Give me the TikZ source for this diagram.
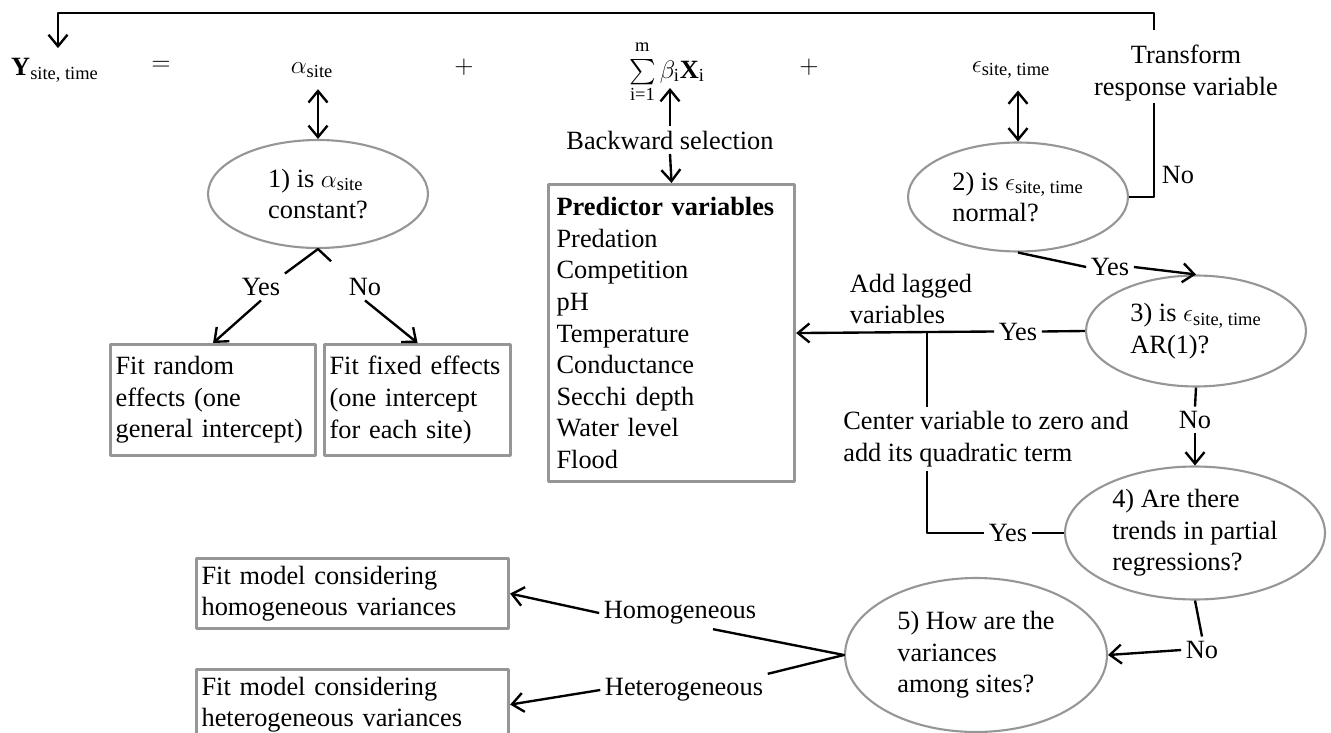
\documentclass[tikz,border=0pt]{standalone}
\usepackage{amsmath}
\usepackage{fontspec}
\setmainfont{Liberation Serif}
\usetikzlibrary{shapes.geometric,arrows.meta,calc}
\definecolor{framegray}{RGB}{150,150,150}
\tikzset{
  quest/.style={ellipse, draw=framegray, line width=1.2pt, align=left, inner sep=0pt},
  fitbox/.style={draw=framegray, line width=1.8pt, align=left, anchor=north west, inner xsep=0.1cm, inner ysep=0.05cm},
  lbl/.style={inner sep=2pt},
}
\begin{document}
\begin{tikzpicture}[x=0.02cm, y=-0.02cm, >={Straight Barb[length=2.3mm,width=3.8mm]}, font=\fontsize{15pt}{18pt}\selectfont, line width=1.35pt, line join=round]
\useasboundingbox (0,0) rectangle (1331,733);
% model equation
\node[lbl] (resp) at (55,70) {\textbf{Y}\textsubscript{site, time}};
\node[lbl] (eq) at (161,66) {$=$};
\node[lbl] (alpha) at (312,70) {$\alpha$\textsubscript{site}};
\node[lbl] (plusa) at (464,67) {$+$};
\node[lbl] (sum) at (667,72) {$\textstyle\sum\limits_{\text{i=1}}^{\text{m}\rule[-2.5pt]{0pt}{2.5pt}}\beta_{\text{i}}\text{\textbf{X}}_{\text{i}}$};
\node[lbl] (plusb) at (809,67) {$+$};
\node[lbl] (eps) at (1011,70) {$\epsilon$\textsubscript{site, time}};
\node[lbl, align=center] (transf) at (1186,73) {Transform\\response variable};
\coordinate (trtop) at (1154,30);
\coordinate (trfoot) at (1154,103);
\coordinate (loopend) at (58,13);
\coordinate (sumfoot) at (670,88);
\coordinate (lagjoin) at (927,331.5);
% questions
\node[quest, minimum width=4.4cm, minimum height=2.16cm] (q1) at (318,194) {1) is $\alpha$\textsubscript{site}\\constant?};
\node[quest, minimum width=4.4cm, minimum height=2.18cm] (q2) at (1018,197) {2) is $\epsilon$\textsubscript{site, time}\\normal?};
\node[quest, minimum width=4.4cm, minimum height=2.22cm] (q3) at (1196,331) {3) is $\epsilon$\textsubscript{site, time}\\AR(1)?};
\node[quest, minimum width=5.2cm, minimum height=2.66cm] (q4) at (1195,533) {4) Are there\\trends in partial\\regressions?};
\node[quest, minimum width=5.24cm, minimum height=3.08cm] (q5) at (976,655) {5) How are the\\variances\\among sites?};
% boxes
\node[fitbox, text width=3.9cm, minimum height=2.22cm] (rand) at (109,343) {Fit random\\effects (one\\general intercept)};
\node[fitbox, text width=3.52cm, minimum height=2.22cm] (fixd) at (323,343) {Fit fixed effects\\(one intercept\\for each site)};
\node[fitbox, text width=4.6cm, minimum height=5.94cm, inner xsep=0.16cm] (pred) at (547,183) {\textbf{Predictor variables}\\Predation\\Competition\\pH\\Temperature\\Conductance\\Secchi depth\\Water level\\Flood};
\node[fitbox, text width=6.04cm, minimum height=1.4cm] (homobox) at (195,557) {Fit model considering\\homogeneous variances};
\node[fitbox, text width=6.04cm, minimum height=1.4cm] (hetebox) at (195,668) {Fit model considering\\heterogeneous variances};
% labels
\node[lbl] (bsel) at (670,140) {Backward selection};
\node[lbl] (yes1) at (261,287) {Yes};
\node[lbl] (no1) at (365,287) {No};
\node[lbl] (no2) at (1178,175) {No};
\node[lbl] (yes2) at (1110,267) {Yes};
\node[lbl] (yes3) at (1018,331.5) {Yes};
\node[lbl, align=left] (lag) at (911,299) {Add lagged\\variables};
\node[lbl, align=left] (cvar) at (986,439) {Center variable to zero and\\add its quadratic term};
\node[lbl] (no3) at (1195,420) {No};
\node[lbl] (yes4) at (1008,533) {Yes};
\node[lbl] (no4) at (1202,650) {No};
\node[lbl] (homo) at (680,613) {Homogeneous};
\node[lbl] (hete) at (684,690) {Heterogeneous};
% connectors
\draw[->] (trtop) |- (loopend) -- ([yshift=3pt]loopend |- resp.north);
\draw[<->, shorten <=4pt] (alpha.south -| q1.north) -- (q1.north);
\draw[<->, shorten <=4pt] (eps.south -| q2.north) -- (q2.north);
\draw[->] (bsel.north) -- (sumfoot);
\draw[->] (bsel.south) -- (pred.north);
\draw (yes1.north east) -- (q1.south) -- ($(q1.south)!0.5!(no1.north west)$);
\draw[->] (yes1.south) -- (rand.north);
\draw[->] (no1.south) -- (fixd.north);
\draw (q2.east) -| (trfoot);
\draw (q2.south) -- (yes2.west);
\draw[->] (yes2.east) -- (q3.north);
\draw (q3.west) -- (yes3.east);
\draw[->] (yes3.west) -- (pred.east);
\draw (lagjoin) -- (lagjoin |- cvar.north);
\draw (lagjoin |- cvar.south) |- (yes4.west);
\draw (yes4.east) -- (q4.west);
\draw (q3.south) -- (no3.north);
\draw[->] (no3.south) -- (q4.north);
\draw (q4.south) -- (no4.north);
\draw[->] (no4.west) -- (q5.east);
\draw ([xshift=0.66cm]homo.south) -- (q5.west) -- (hete.north east);
\draw[->] (homo.west) -- (homobox.east);
\draw[->] (hete.west) -- (hetebox.east);
\end{tikzpicture}
\end{document}
